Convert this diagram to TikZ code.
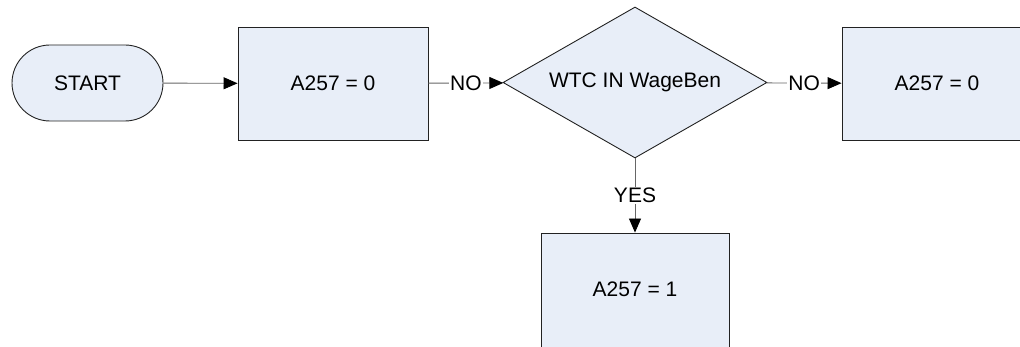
\documentclass[tikz,border=0pt]{standalone}
\usepackage{fontspec}
\setmainfont{Liberation Sans}
\usetikzlibrary{arrows.meta,shapes.geometric,shadows}
\definecolor{boxfill}{HTML}{E8EEF8}
\definecolor{boxline}{HTML}{222222}
\definecolor{conn}{HTML}{666666}
\begin{document}
\begin{tikzpicture}[x=1pt,y=1pt,
  every node/.style={font=\fontsize{21}{24}\selectfont, text=black},
  shade/.style={drop shadow={shadow xshift=0pt,shadow yshift=-1.5pt,fill=gray,opacity=0.6}},
  procbox/.style={draw=boxline, fill=boxfill, line width=0.9pt, inner sep=0pt, shade,
    minimum width=190pt, minimum height=113pt},
  termbox/.style={draw=boxline, fill=boxfill, line width=0.9pt, inner sep=0pt,
    minimum width=151pt, minimum height=76pt, rounded corners=38pt},
  decbox/.style={diamond, draw=boxline, fill=boxfill, line width=0.9pt, inner sep=0pt,
    aspect=1.748, minimum width=264pt, minimum height=151pt},
  conline/.style={draw=conn, line width=0.9pt, -{Triangle[length=14pt,width=12pt,black]}},
  lbl/.style={fill=white, inner sep=1pt}
]
\useasboundingbox (0,0) rectangle (1020,-347);
\clip (0,0) rectangle (1020,-347);
\node[termbox] (start) at (87.5,-83) {START};
\node[procbox] (b1) at (333,-83.5) {A257 = 0};
\node[decbox] (dec) at (635,-82.5) {WTC IN WageBen};
\node[procbox] (b2) at (937,-83.5) {A257 = 0};
\node[procbox, minimum width=188pt, minimum height=124pt] (b3) at (635,-295) {};
\node (b3t) at (635,-289.5) {A257 = 1};
\draw[conline] (start) -- (b1);
\draw[conline] (b1) -- node[lbl] {NO} (dec);
\draw[conline] (dec) -- node[lbl] {NO} (b2);
\draw[conline] (dec) -- node[lbl] {YES} (b3);
\end{tikzpicture}
\end{document}
